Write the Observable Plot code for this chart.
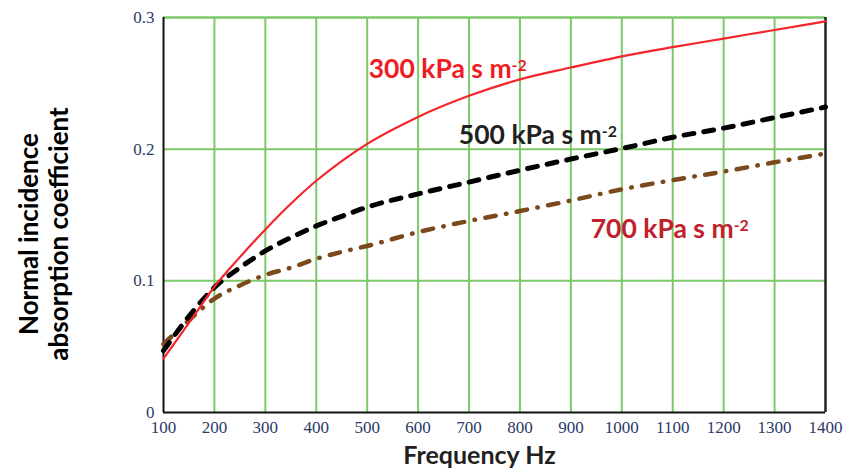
<!DOCTYPE html>
<html>
<head>
<meta charset="utf-8">
<script src="https://cdn.jsdelivr.net/npm/d3@7"></script>
<script src="https://cdn.jsdelivr.net/npm/@observablehq/plot@0.6"></script>
<style>
  html, body { margin: 0; padding: 0; background: #fff; }
  #chart svg { display: block; }
  #chart svg g[aria-label$="tick label"] { font-family: "Liberation Serif", serif; font-size: 17px; }
</style>
</head>
<body>
<div id="chart"></div>
<script>
// Frequencies (Hz)
const freq = [100,150,200,250,300,350,400,450,500,600,700,800,900,1000,1100,1200,1300,1400];
// Absorption coefficient, flow resistivity 300 kPa s m-2
const a300 = [0.041,0.068,0.0955,0.118,0.139,0.1585,0.176,0.191,0.204,0.2245,0.2405,0.253,0.262,0.2705,0.2775,0.284,0.2905,0.297];
// 500 kPa s m-2
const a500 = [0.047,0.073,0.095,0.110,0.1227,0.1328,0.1417,0.149,0.156,0.166,0.175,0.184,0.1925,0.2005,0.209,0.216,0.224,0.232];
// 700 kPa s m-2
const a700 = [0.052,0.070,0.0865,0.0965,0.1045,0.110,0.1167,0.122,0.1265,0.137,0.1455,0.153,0.161,0.1695,0.1765,0.183,0.190,0.1967];

const xTicks = [100,200,300,400,500,600,700,800,900,1000,1100,1200,1300,1400];
const yTicks = [0,0.1,0.2,0.3];
const xGrid = [200,300,400,500,600,700,800,900,1000,1100,1200,1300];
const yGrid = [0.1,0.2];

const seriesNames = ["300 kPa s m", "500 kPa s m", "700 kPa s m"];
const labelX = [503, 680, 939];
const labelY = [0.2606, 0.21, 0.139];
const labelColors = ["#ee1c24", "#231f20", "#c1202c"];

const rows = (vals) => freq.map((f, i) => ({f, a: vals[i]}));
const labels = seriesNames.map((t, i) => ({t, x: labelX[i], y: labelY[i], c: labelColors[i]}));

const green = "#7cc96a";

const chart = Plot.plot({
  width: 846,
  height: 468,
  marginLeft: 163,
  marginRight: 21,
  marginTop: 17,
  marginBottom: 56,
  style: {background: "#fff"},
  x: {domain: [100, 1400]},
  y: {domain: [0, 0.3]},
  marks: [
    Plot.ruleX(xGrid, {stroke: green, strokeWidth: 2}),
    Plot.ruleY(yGrid, {stroke: green, strokeWidth: 2}),
    Plot.ruleY([0.3], {stroke: green, strokeWidth: 2.5}),
    Plot.ruleX([100], {stroke: "#111", strokeWidth: 2}),
    Plot.ruleX([1400], {stroke: "#222", strokeWidth: 2.5}),
    Plot.ruleY([0], {stroke: "#111", strokeWidth: 2}),
    Plot.line(rows(a700), {x: "f", y: "a", stroke: "#7a4a1c", strokeWidth: 4.5, strokeDasharray: "10.5,10.5,0.5,10.5", strokeLinecap: "round", curve: "monotone-x"}),
    Plot.line(rows(a500), {x: "f", y: "a", stroke: "#000", strokeWidth: 5, strokeDasharray: "10,10", strokeLinecap: "round", curve: "monotone-x"}),
    Plot.line(rows(a300), {x: "f", y: "a", stroke: "#f2262b", strokeWidth: 2.2, curve: "monotone-x"}),
    Plot.axisX(xTicks, {tickSize: 0, tickPadding: 8, label: null, fill: "#2b3a67", tickFormat: d => String(d)}),
    Plot.axisY(yTicks, {tickSize: 0, tickPadding: 9, label: null, fill: "#2b3a67", tickFormat: d => d === 0 ? "0" : d3.format(".1f")(d)}),
    Plot.text(labels, {x: "x", y: "y", text: "t", fill: "c", textAnchor: "start", fontSize: 26.5, fontWeight: "bold", fontFamily: "Lato", className: "serieslbl"}),
    Plot.text(["Frequency Hz"], {frameAnchor: "bottom", lineAnchor: "middle", dx: -15, dy: 43, fontSize: 25, fontWeight: "bold", fontFamily: "Lato", fill: "#231f20"}),
    Plot.text(["Normal incidence\nabsorption coefficient"], {frameAnchor: "left", textAnchor: "middle", dx: -120, dy: 19, rotate: -90, lineHeight: 1.15, fontSize: 26, fontWeight: "bold", fontFamily: "Lato", fill: "#000"})
  ]
});

d3.select(chart).selectAll("g.serieslbl text")
  .append("tspan")
  .attr("dy", "-0.45em")
  .attr("font-size", "0.6em")
  .text("-2");

document.getElementById("chart").appendChild(chart);
</script>
</body>
</html>
